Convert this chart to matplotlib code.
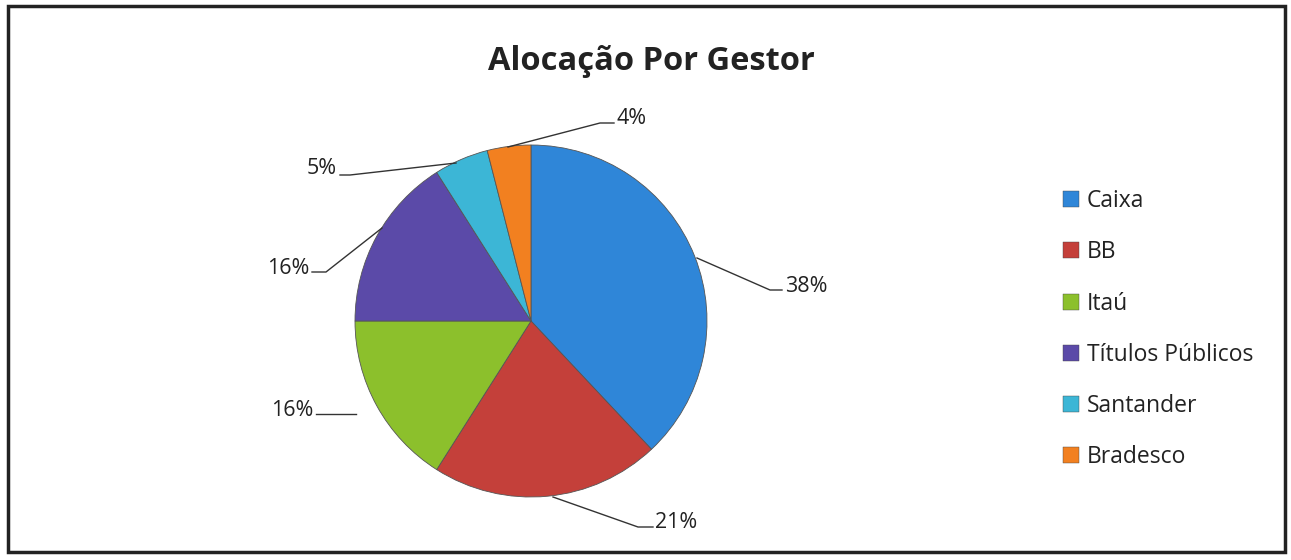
import matplotlib.pyplot as plt
from matplotlib.lines import Line2D
from matplotlib.patches import Rectangle

plt.rcParams['font.family'] = ['Open Sans', 'DejaVu Sans']

gestores = ['Caixa', 'BB', 'Itaú', 'Títulos Públicos', 'Santander', 'Bradesco']
valores = [38, 21, 16, 16, 5, 4]
cores = ['#2f86d8', '#c4403a', '#8cc02c', '#5b4aa8', '#3cb6d6', '#f28020']

W, H = 1291, 560
fig = plt.figure(figsize=(W / 100, H / 100), dpi=100)
fig.patch.set_facecolor('white')

# moldura
fig.add_artist(Rectangle((8 / W, 8 / H), 1 - 14 / W, 1 - 14 / H, transform=fig.transFigure,
                         fill=False, edgecolor='#222222', linewidth=2.5))

cx, cy, r = 531, 321, 176
ax = fig.add_axes([(cx - r) / W, (H - cy - r) / H, 2 * r / W, 2 * r / H])
wedges, _ = ax.pie(valores, colors=cores, startangle=90, counterclock=False, radius=1,
                   wedgeprops=dict(edgecolor='#555555', linewidth=0.6))
ax.set_xlim(-1, 1)
ax.set_ylim(-1, 1)

def px(x, y):
    return ((x - cx) / r, (cy - y) / r)

# linhas de chamada e rótulos (posições em pixels da imagem)
rotulos = [
    ('38%', [(697, 258), (770, 290), (782, 290)], (785, 286), 'left'),
    ('21%', [(553, 497), (638, 527), (653, 527)], (655, 523), 'left'),
    ('16%', [(356, 414), (316, 414)], (313, 411), 'right'),
    ('16%', [(382, 228), (326, 272), (312, 272)], (309, 268), 'right'),
    ('5%', [(456, 163), (350, 175), (340, 175)], (337, 169), 'right'),
    ('4%', [(508, 147), (600, 123), (614, 123)], (616, 118), 'left'),
]
for txt, pts, pos, ha in rotulos:
    xs, ys = zip(*[px(*p) for p in pts])
    ax.add_line(Line2D(xs, ys, color='#333333', linewidth=1, clip_on=False))
    tx, ty = px(*pos)
    ax.text(tx, ty, txt, ha=ha, va='center', fontsize=15.5, color='#222222')

fig.text(651 / W, 1 - 62 / H, 'Alocação Por Gestor', ha='center', va='center',
         fontsize=23.5, fontweight='bold', color='#222222')

handles = [Line2D([], [], marker='s', linestyle='', markersize=11, markerfacecolor=c,
                  markeredgecolor='#444444', markeredgewidth=0.3) for c in cores]
fig.legend(handles, gestores, loc='upper left', bbox_to_anchor=(1050 / W, 1 - 178 / H),
           frameon=False, fontsize=16.5, labelspacing=1.18, handlelength=0.8,
           handletextpad=0.3, borderpad=0, labelcolor='#222222')

fig.savefig('out.png', dpi=100)
